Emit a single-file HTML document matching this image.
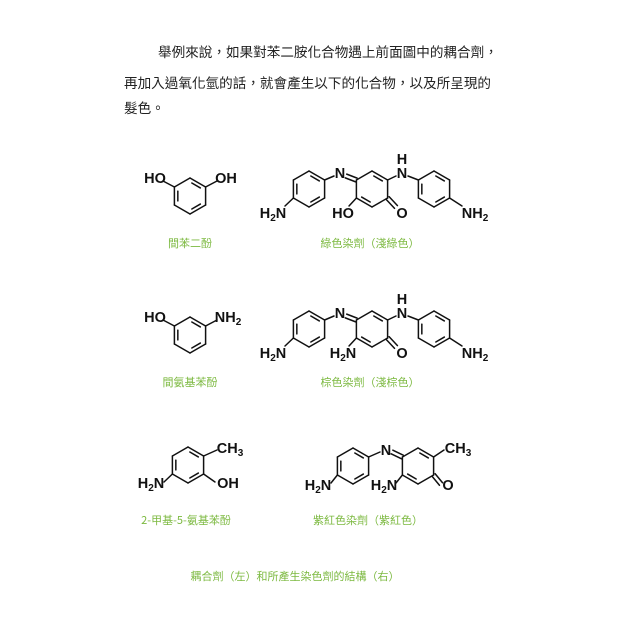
<!DOCTYPE html>
<html><head><meta charset="utf-8">
<style>
html,body{margin:0;padding:0;background:#fff;}
body{width:620px;height:620px;position:relative;overflow:hidden;}
.t{position:absolute;font-family:"Noto Sans CJK TC","Noto Serif CJK SC",serif;font-size:13.6px;color:#222;white-space:nowrap;line-height:16px;}
svg{position:absolute;left:0;top:0;}
.a{font-family:"Liberation Sans",sans-serif;font-weight:bold;font-size:14.5px;fill:#111;text-anchor:middle;}
.s{font-size:10px;}
.g{font-family:"Noto Sans CJK TC","Liberation Sans",sans-serif;font-size:11px;fill:#7cb940;text-anchor:middle;}
</style></head><body>
<div class="t" style="left:158px;top:43px;">舉例來說，如果對苯二胺化合物遇上前面圖中的耦合劑，</div>
<div class="t" style="left:124px;top:74px;">再加入過氧化氫的話，就會產生以下的化合物，以及所呈現的</div>
<div class="t" style="left:124px;top:99px;">髮色。</div>
<svg id="sv" width="620" height="620" viewBox="0 0 620 620">
<g id="bonds" stroke="#111" stroke-width="1.5" fill="none" stroke-linecap="round"></g>
<text class="a" x="155" y="183">HO</text>
<text class="a" x="226" y="183">OH</text>
<text class="a" x="340" y="178">N</text>
<text class="a" x="402" y="164">H</text>
<text class="a" x="402" y="178">N</text>
<text class="a" x="273" y="218">H<tspan class="s" dy="3">2</tspan><tspan dy="-3">N</tspan></text>
<text class="a" x="343" y="218">HO</text>
<text class="a" x="402" y="218">O</text>
<text class="a" x="475" y="218">NH<tspan class="s" dy="3">2</tspan></text>
<text class="g" x="190" y="247">間苯二酚</text>
<text class="g" x="370" y="247">綠色染劑（淺綠色）</text>
<text class="a" x="155" y="322">HO</text>
<text class="a" x="228" y="322">NH<tspan class="s" dy="3">2</tspan></text>
<text class="a" x="340" y="318">N</text>
<text class="a" x="402" y="304">H</text>
<text class="a" x="402" y="318">N</text>
<text class="a" x="273" y="358">H<tspan class="s" dy="3">2</tspan><tspan dy="-3">N</tspan></text>
<text class="a" x="343" y="358">H<tspan class="s" dy="3">2</tspan><tspan dy="-3">N</tspan></text>
<text class="a" x="402" y="358">O</text>
<text class="a" x="475" y="358">NH<tspan class="s" dy="3">2</tspan></text>
<text class="g" x="190" y="386">間氨基苯酚</text>
<text class="g" x="370" y="386">棕色染劑（淺棕色）</text>
<text class="a" x="230" y="453">CH<tspan class="s" dy="3">3</tspan></text>
<text class="a" x="228" y="488">OH</text>
<text class="a" x="151" y="488">H<tspan class="s" dy="3">2</tspan><tspan dy="-3">N</tspan></text>
<text class="a" x="386" y="455">N</text>
<text class="a" x="458" y="453">CH<tspan class="s" dy="3">3</tspan></text>
<text class="a" x="448" y="490">O</text>
<text class="a" x="384" y="490">H<tspan class="s" dy="3">2</tspan><tspan dy="-3">N</tspan></text>
<text class="a" x="318" y="490">H<tspan class="s" dy="3">2</tspan><tspan dy="-3">N</tspan></text>
<text class="g" x="186" y="524">2-甲基-5-氨基苯酚</text>
<text class="g" x="368" y="524">紫紅色染劑（紫紅色）</text>
<text class="g" x="295" y="580">耦合劑（左）和所產生染色劑的結構（右）</text>
</svg>
<script>
var g=document.getElementById('bonds'),R=18,H=15.6;
function L(a,b,c,d){var l=document.createElementNS('http://www.w3.org/2000/svg','line');l.setAttribute('x1',a);l.setAttribute('y1',b);l.setAttribute('x2',c);l.setAttribute('y2',d);g.appendChild(l);}
function V(cx,cy){return [[cx,cy-R],[cx+H,cy-R/2],[cx+H,cy+R/2],[cx,cy+R],[cx-H,cy+R/2],[cx-H,cy-R/2]];}
function ring(cx,cy,inner){var v=V(cx,cy);for(var i=0;i<6;i++){var p=v[i],q=v[(i+1)%6];L(p[0],p[1],q[0],q[1]);}
 inner.forEach(function(i){var p=v[i],q=v[(i+1)%6],k=0.78,s=0.15;
 var px=cx+(p[0]-cx)*k,py=cy+(p[1]-cy)*k,qx=cx+(q[0]-cx)*k,qy=cy+(q[1]-cy)*k;
 var dx=qx-px,dy=qy-py;L(px+dx*s,py+dy*s,qx-dx*s,qy-dy*s);});return v;}
function dbl(a,b,c,d){var dx=c-a,dy=d-b,l=Math.hypot(dx,dy),nx=-dy/l*2,ny=dx/l*2;L(a+nx,b+ny,c+nx,d+ny);L(a-nx,b-ny,c-nx,d-ny);}
function dye(dy){
 var A=ring(309,189+dy,[0,2,4]),B=ring(372,189+dy,[0,3]),C=ring(434,189+dy,[0,2,4]);
 L(A[1][0],A[1][1],334,176+dy);dbl(346,176+dy,B[5][0],B[5][1]);
 L(A[4][0],A[4][1],285,206+dy);
 L(B[1][0],B[1][1],396,176+dy);L(408,176+dy,C[5][0],C[5][1]);
 L(B[4][0],B[4][1],349,206+dy);dbl(B[2][0],B[2][1],396,207+dy);
 L(C[2][0],C[2][1],462,206+dy);
}
var r=ring(190,196,[0,2,4]);L(r[5][0],r[5][1],163,181);L(r[1][0],r[1][1],217,181);
r=ring(190,335,[0,2,4]);L(r[5][0],r[5][1],163,320);L(r[1][0],r[1][1],217,320);
dye(0);dye(140);
r=ring(188,465,[0,2,4]);L(r[1][0],r[1][1],217,450);L(r[2][0],r[2][1],215,482);L(r[4][0],r[4][1],164,482);
var A=ring(353,466,[0,2,4]),B=ring(418,466,[0,3]);
L(A[1][0],A[1][1],380,452);dbl(392,452,B[5][0],B[5][1]);
L(A[4][0],A[4][1],331,483);L(B[4][0],B[4][1],396,483);
L(B[1][0],B[1][1],444,450);dbl(B[2][0],B[2][1],441,484);
</script>
</body></html>
